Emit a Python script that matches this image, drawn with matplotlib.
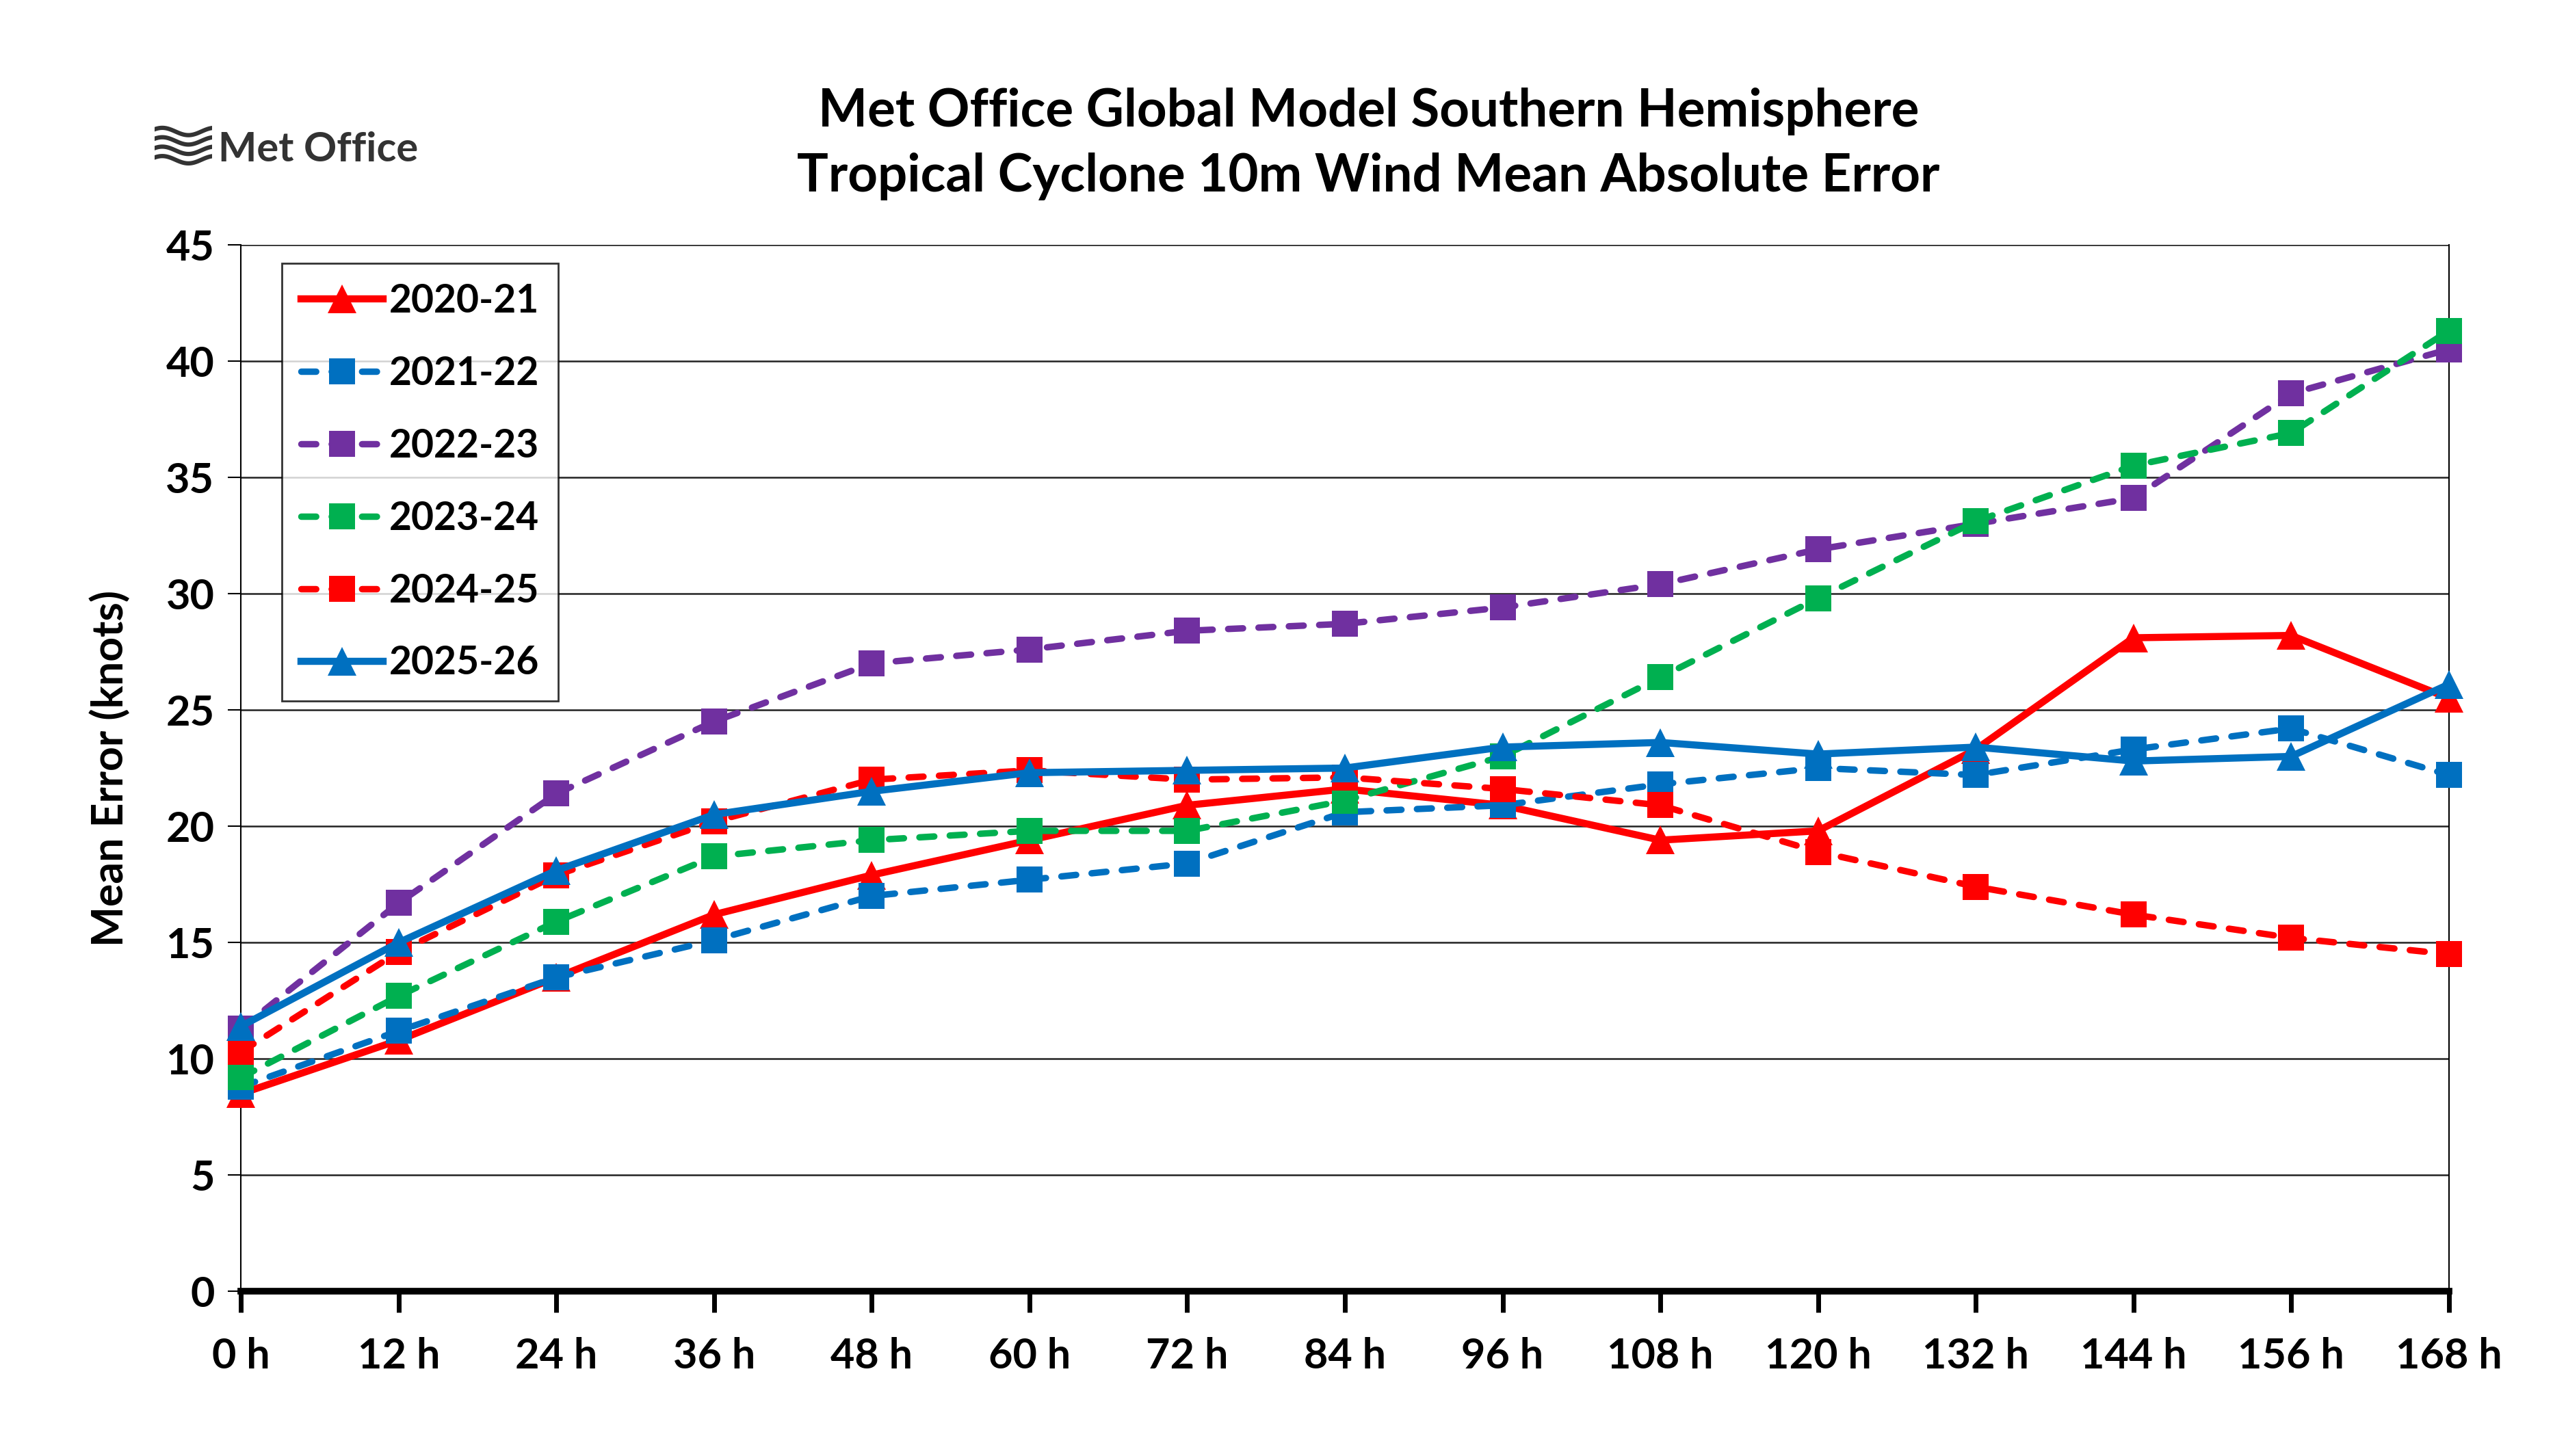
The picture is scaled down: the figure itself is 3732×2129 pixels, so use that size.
import numpy as np
import matplotlib
matplotlib.use("Agg")
import matplotlib.pyplot as plt

plt.rcParams['font.family'] = ['Lato', 'DejaVu Sans']

# lead times
lead_times = [0, 12, 24, 36, 48, 60, 72, 84, 96, 108, 120, 132, 144, 156, 168]
tick_labels = [f"{h} h" for h in lead_times]

# mean absolute error (knots) per season
err_2020_21 = [8.5, 10.8, 13.5, 16.2, 17.9, 19.4, 20.9, 21.6, 20.9, 19.4, 19.8, 23.3, 28.1, 28.2, 25.5]
err_2021_22 = [8.8, 11.2, 13.5, 15.1, 17.0, 17.7, 18.4, 20.6, 20.9, 21.8, 22.5, 22.2, 23.3, 24.2, 22.2]
err_2022_23 = [11.3, 16.7, 21.4, 24.5, 27.0, 27.6, 28.4, 28.7, 29.4, 30.4, 31.9, 33.0, 34.1, 38.6, 40.5]
err_2023_24 = [9.2, 12.7, 15.9, 18.7, 19.4, 19.8, 19.8, 21.1, 23.0, 26.4, 29.8, 33.1, 35.5, 36.9, 41.3]
err_2024_25 = [10.3, 14.6, 17.9, 20.2, 22.0, 22.4, 22.0, 22.1, 21.6, 20.9, 18.9, 17.4, 16.2, 15.2, 14.5]
err_2025_26 = [11.4, 15.0, 18.1, 20.5, 21.5, 22.3, 22.4, 22.5, 23.4, 23.6, 23.1, 23.4, 22.8, 23.0, 26.1]

seasons = ["2020-21", "2021-22", "2022-23", "2023-24", "2024-25", "2025-26"]
series = [err_2020_21, err_2021_22, err_2022_23, err_2023_24, err_2024_25, err_2025_26]
colors = ["#FF0000", "#0070C0", "#7030A0", "#00B050", "#FF0000", "#0070C0"]
markers = ["^", "s", "s", "s", "s", "^"]
dashed = [False, True, True, True, True, False]

fig = plt.figure(figsize=(37.32, 21.29), dpi=100)
ax = fig.add_axes([0.0944, 0.113, 0.8648, 0.719])

x = np.arange(len(lead_times))
for i, (name, vals) in enumerate(zip(seasons, series)):
    if dashed[i]:
        ax.plot(x, vals, color=colors[i], lw=6.8, linestyle=(0, (2.3, 2.4)),
                dash_capstyle='round', marker=markers[i], markersize=28,
                markeredgewidth=0, label=name, zorder=3 + i, clip_on=False)
    else:
        ax.plot(x, vals, color=colors[i], lw=7.5, marker=markers[i], markersize=30,
                markeredgewidth=0, label=name, zorder=3 + i, clip_on=False)

ax.set_xlim(0, len(lead_times) - 1)
ax.set_ylim(0, 45)
ax.set_yticks(range(0, 46, 5))
ax.set_xticks(x)
ax.set_xticklabels(tick_labels, fontsize=44, fontweight='bold')
ax.tick_params(axis='y', labelsize=44, length=14, width=1.5, pad=14)
for lab in ax.get_yticklabels():
    lab.set_fontweight('bold')
ax.tick_params(axis='x', length=22, width=5, pad=26)

ax.grid(axis='y', color='#222222', lw=1.8)
ax.set_axisbelow(True)
ax.spines['top'].set_visible(False)
ax.spines['left'].set_linewidth(1.5)
ax.spines['right'].set_linewidth(1.5)
ax.spines['bottom'].set_linewidth(7)

ax.set_ylabel("Mean Error (knots)", fontsize=45, fontweight='bold')
ax.yaxis.set_label_coords(-0.05, 0.5)

leg = ax.legend(loc='upper left', bbox_to_anchor=(0.0185, 0.982),
                prop={'weight': 'bold', 'size': 41}, frameon=True, fancybox=False,
                edgecolor='black', handlelength=2.1, labelspacing=0.93,
                borderpad=0.5, handletextpad=0.15, borderaxespad=0)
leg.get_frame().set_linewidth(2)
leg.set_zorder(20)

fig.text(0.536, 0.94, "Met Office Global Model Southern Hemisphere\nTropical Cyclone 10m Wind Mean Absolute Error",
         ha='center', va='top', fontsize=55, fontweight='bold', linespacing=1.45)

# Met Office logo (waves + wordmark)
lax = fig.add_axes([0.0605, 0.886, 0.0225, 0.028])
t = np.linspace(0, 1, 100)
for k in range(4):
    lax.plot(t, k * 0.9 + 0.35 * np.sin(2 * np.pi * (t * 1.1 + 0.1)), color='#333333', lw=4.5)
lax.set_xlim(0, 1)
lax.set_ylim(-0.6, 3.3)
lax.axis('off')
fig.text(0.0855, 0.897, "Met Office", ha='left', va='center', fontsize=43,
         fontweight='bold', color='#333333')

fig.savefig("out.png", dpi=100, facecolor='white')
